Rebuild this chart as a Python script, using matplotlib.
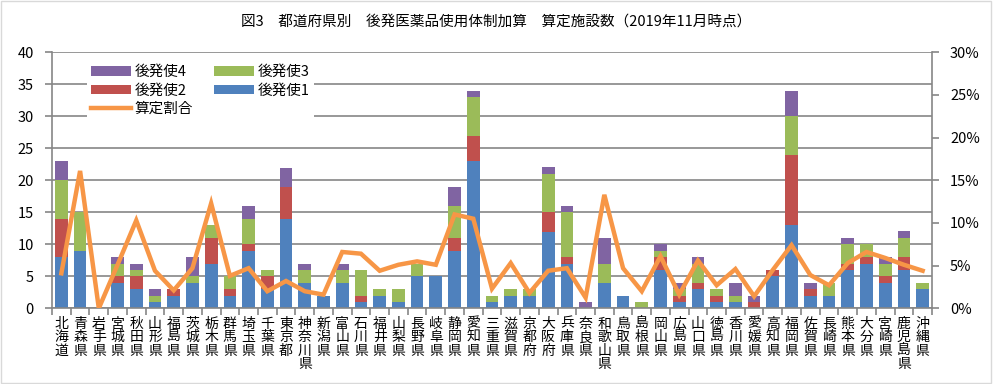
import numpy as np
import matplotlib
matplotlib.use('Agg')
import matplotlib.pyplot as plt
from matplotlib.patches import Rectangle
from matplotlib.ticker import FixedLocator, PercentFormatter

plt.rcParams['font.family'] = ['Noto Sans CJK JP', 'DejaVu Sans']

prefs = ['北海道', '青森県', '岩手県', '宮城県', '秋田県', '山形県', '福島県', '茨城県', '栃木県', '群馬県',
         '埼玉県', '千葉県', '東京都', '神奈川県', '新潟県', '富山県', '石川県', '福井県', '山梨県', '長野県',
         '岐阜県', '静岡県', '愛知県', '三重県', '滋賀県', '京都府', '大阪府', '兵庫県', '奈良県', '和歌山県',
         '鳥取県', '島根県', '岡山県', '広島県', '山口県', '徳島県', '香川県', '愛媛県', '高知県', '福岡県',
         '佐賀県', '長崎県', '熊本県', '大分県', '宮崎県', '鹿児島県', '沖縄県']

kouhatsu1 = [8, 9, 0, 4, 3, 1, 2, 4, 7, 2, 9, 3, 14, 4, 2, 4, 1, 2, 1, 5,
             5, 9, 23, 1, 2, 2, 12, 7, 0, 4, 2, 0, 6, 1, 3, 1, 1, 0, 5, 13,
             2, 2, 6, 7, 4, 6, 3]
kouhatsu2 = [6, 0, 0, 1, 2, 0, 1, 0, 4, 1, 1, 2, 5, 0, 0, 0, 1, 0, 0, 0,
             0, 2, 4, 0, 0, 0, 3, 1, 0, 0, 0, 0, 2, 1, 1, 1, 0, 1, 1, 11,
             1, 0, 1, 1, 1, 2, 0]
kouhatsu3 = [6, 6, 0, 2, 1, 1, 0, 1, 2, 2, 4, 1, 0, 2, 0, 2, 4, 1, 2, 2,
             0, 5, 6, 1, 1, 1, 6, 7, 0, 3, 0, 1, 1, 1, 3, 1, 1, 0, 0, 6,
             0, 2, 3, 2, 2, 3, 1]
kouhatsu4 = [3, 0, 0, 1, 1, 1, 0, 3, 0, 0, 2, 0, 3, 1, 0, 1, 0, 0, 0, 0,
             0, 3, 1, 0, 0, 0, 1, 1, 1, 4, 0, 0, 1, 1, 1, 0, 2, 1, 0, 4,
             1, 0, 1, 0, 1, 1, 0]
santei_ratio = [4.1, 16.1, 0.0, 5.1, 10.3, 4.4, 2.1, 4.7, 12.3, 3.8, 4.7, 2.0, 3.2, 2.0, 1.6, 6.6, 6.4, 4.4, 5.1, 5.5,
                5.1, 11.0, 10.5, 2.3, 5.3, 1.8, 4.4, 4.7, 1.25, 13.3, 4.7, 2.0, 6.1, 1.6, 5.6, 2.7, 4.6, 1.4, 4.5, 7.4,
                3.9, 2.7, 5.3, 6.6, 5.9, 5.1, 4.4]

c_blue = '#4F81BD'
c_red = '#C0504D'
c_green = '#9BBB59'
c_purple = '#8064A2'
c_orange = '#F79646'
c_grid = '#868686'

fig = plt.figure(figsize=(9.93, 3.84), dpi=100)
ax = fig.add_axes([52 / 993, 1 - 308.3 / 384, 880 / 993, 256 / 384])

x = np.arange(len(prefs))
w = 0.68
b1 = np.array(kouhatsu1)
b2 = b1 + np.array(kouhatsu2)
b3 = b2 + np.array(kouhatsu3)
p1 = ax.bar(x, kouhatsu1, w, color=c_blue, label='後発使1', zorder=2)
p2 = ax.bar(x, kouhatsu2, w, bottom=b1, color=c_red, label='後発使2', zorder=2)
p3 = ax.bar(x, kouhatsu3, w, bottom=b2, color=c_green, label='後発使3', zorder=2)
p4 = ax.bar(x, kouhatsu4, w, bottom=b3, color=c_purple, label='後発使4', zorder=2)

ax.set_xlim(-0.5, len(prefs) - 0.5)
ax.set_ylim(0, 40)
ax.set_yticks(np.arange(0, 41, 5))
ax.yaxis.grid(True, color=c_grid, lw=1.2)
ax.set_axisbelow(True)

# vertical category labels, one character per line
ax.set_xticks(x)
ax.set_xticklabels(['\n'.join(p) for p in prefs], fontsize=10, linespacing=0.95, va='top')
ax.tick_params(axis='x', which='major', length=0, pad=6)
ax.xaxis.set_minor_locator(FixedLocator(np.arange(-0.5, len(prefs), 1)))
ax.tick_params(axis='x', which='minor', length=5, color=c_grid, width=1.2)
ax.tick_params(axis='y', length=5, color=c_grid, width=1.2, labelsize=10.5, pad=8)

for s in ['top', 'right']:
    ax.spines[s].set_visible(False)
for s in ['left', 'bottom']:
    ax.spines[s].set_color(c_grid)
    ax.spines[s].set_linewidth(1.2)

ax2 = ax.twinx()
ln, = ax2.plot(x, santei_ratio, color=c_orange, lw=3.2, label='算定割合', zorder=3,
               solid_joinstyle='miter')
ax2.set_ylim(0, 30)
ax2.set_yticks(np.arange(0, 31, 5))
ax2.yaxis.set_major_formatter(PercentFormatter(decimals=0))
ax2.tick_params(axis='y', length=5, color=c_grid, width=1.2, labelsize=10.5, pad=8)
for s in ['top', 'left', 'bottom']:
    ax2.spines[s].set_visible(False)
ax2.spines['right'].set_color(c_grid)
ax2.spines['right'].set_linewidth(1.2)

leg = ax2.legend([p4, p2, ln, p3, p1], ['後発使4', '後発使2', '算定割合', '後発使3', '後発使1'],
                 ncol=2, loc='upper left', bbox_to_anchor=(0.031, 0.995), frameon=True,
                 fontsize=10.5, handlelength=2.75, handleheight=0.6, columnspacing=1.4,
                 labelspacing=0.3, handletextpad=0.25, borderpad=0.3)
leg.get_frame().set_edgecolor('none')
leg.get_frame().set_facecolor('white')
leg.get_frame().set_alpha(1)

fig.text(0.5, 1 - 22 / 384, '図3　都道府県別　後発医薬品使用体制加算　算定施設数（2019年11月時点）',
         ha='center', va='center', fontsize=10.5)

fig.patches.append(Rectangle((0.001, 0.002), 0.997, 0.995, transform=fig.transFigure,
                             fill=False, edgecolor='#D9D9D9', lw=1))

fig.savefig('out.png', dpi=100)
